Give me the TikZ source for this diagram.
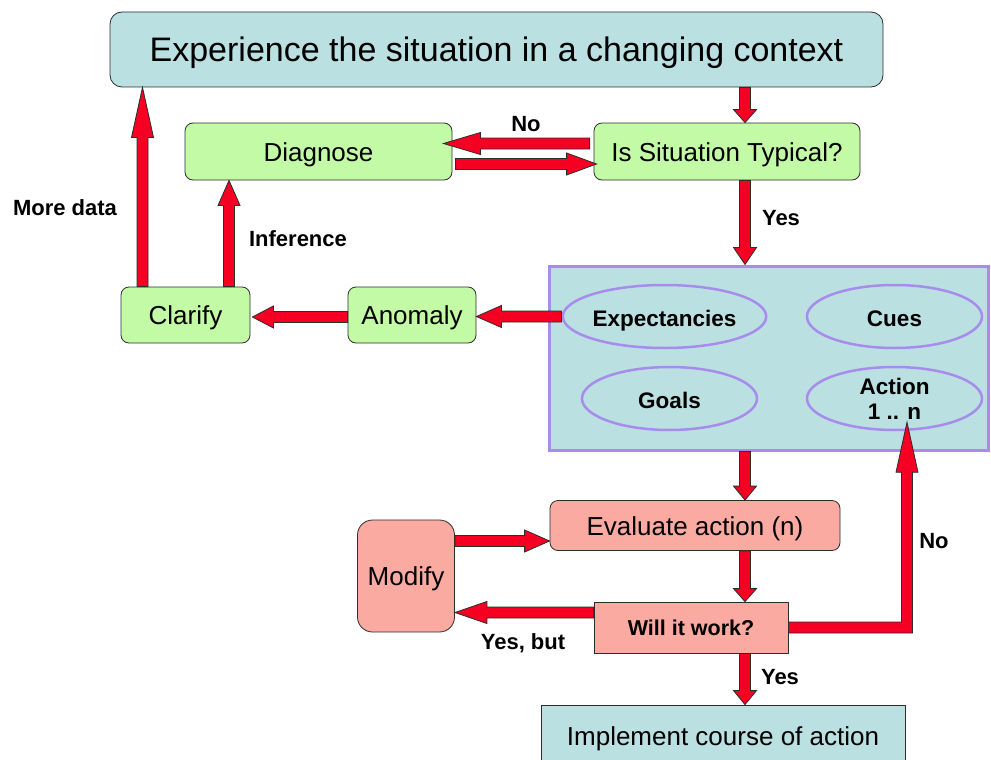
\documentclass[tikz,border=0pt]{standalone}
\usepackage{fontspec}
\setmainfont{Liberation Sans}
\usetikzlibrary{calc,shapes.geometric}
\definecolor{boxblue}{RGB}{186,224,226}
\definecolor{boxgreen}{RGB}{194,250,166}
\definecolor{boxsalmon}{RGB}{250,170,160}
\definecolor{ovalpurple}{RGB}{168,140,236}
\definecolor{arrowred}{RGB}{245,0,35}
\definecolor{edgegray}{RGB}{45,45,45}
\tikzset{
  headlen/.store in=\barrowhl, headwid/.store in=\barrowhw, shaftwid/.store in=\barrowsw,
  headlen=25pt, headwid=11pt, shaftwid=5.5pt,
  barrowsty/.style={fill=arrowred, draw=edgegray, line width=0.8pt, line join=miter},
  box/.style={draw=edgegray, line width=0.8pt, rectangle, inner sep=0pt, align=center,
    text height=19pt, text depth=0pt, font=\fontsize{26}{30}\selectfont},
  greenbox/.style={box, fill=boxgreen, rounded corners=8pt},
  salmonbox/.style={box, fill=boxsalmon, rounded corners=8pt},
  oval/.style={ellipse, draw=ovalpurple, line width=2.5pt, inner sep=0pt, align=center,
    font=\bfseries\fontsize{22.5}{25}\selectfont},
  lbl/.style={inner sep=0pt, font=\bfseries\fontsize{22}{25}\selectfont},
}
\newcommand\blockarrow[3][]{%
  \path[barrowsty,#1] let \p1=(#2), \p2=(#3), \n1={veclen(\x2-\x1,\y2-\y1)} in
    ($(\p1)!\barrowsw!90:(\p2)$)
    -- ($(\p1)!\n1-\barrowhl!(\p2)!\barrowsw!90:(\p2)$)
    -- ($(\p1)!\n1-\barrowhl!(\p2)!\barrowhw!90:(\p2)$)
    -- (\p2)
    -- ($(\p1)!\n1-\barrowhl!(\p2)!\barrowhw!-90:(\p2)$)
    -- ($(\p1)!\n1-\barrowhl!(\p2)!\barrowsw!-90:(\p2)$)
    -- ($(\p1)!\barrowsw!-90:(\p2)$) -- cycle;}
\begin{document}
\begin{tikzpicture}[x=1pt,y=-1pt]
\useasboundingbox (0,0) rectangle (991,760);
\clip (0,0) rectangle (991,760);
% boxes
\node[box, fill=boxblue, rounded corners=12pt, minimum width=773, minimum height=75,
  text height=24pt, font=\fontsize{34}{38}\selectfont] (title) at (496.5,49.5) {Experience the situation in a changing context};
\node[greenbox, minimum width=267, minimum height=57] (dia) at (318.5,151.5) {Diagnose};
\node[greenbox, minimum width=266, minimum height=57] (issit) at (727,151.5) {Is Situation Typical?};
\node[greenbox, minimum width=129, minimum height=56] (clarify) at (185.5,315) {Clarify};
\node[greenbox, minimum width=128, minimum height=56] (anomaly) at (412,315) {Anomaly};
\node[rectangle, draw=ovalpurple, fill=boxblue, line width=3pt, minimum width=439, minimum height=184, inner sep=0pt] (big) at (768.5,358) {};
\node[oval, text height=20pt, text depth=0pt, minimum width=185, minimum height=63] (exp) at (664.5,316.5) {Expectancies};
\node[oval, text height=20pt, text depth=0pt, minimum width=175, minimum height=63] (cues) at (894.5,316.5) {Cues};
\node[oval, text height=20pt, text depth=0pt, minimum width=175, minimum height=63] (goals) at (669.5,398.5) {Goals};
\node[oval, minimum width=175, minimum height=63] (act) at (894.5,398.5) {Action\\1 .{}. n};
\node[salmonbox, minimum width=290, minimum height=50] (eval) at (695,525.5) {Evaluate action (n)};
\node[salmonbox, rounded corners=15pt, minimum width=97, minimum height=112] (modify) at (406,576) {Modify};
\node[box, fill=boxsalmon, minimum width=194, minimum height=51, text height=15.5pt,
  font=\bfseries\fontsize{21.5}{25}\selectfont] (will) at (691,627.5) {Will it work?};
\node[box, fill=boxblue, minimum width=364, minimum height=62] (impl) at (723,736) {Implement course of action};
% helper coordinates
\coordinate (col) at (745,0);
\coordinate (infx) at (229,0);
\coordinate (mdx) at (142.5,0);
\coordinate (m1) at ([yshift=35pt]modify.east);
\coordinate (w1) at ([yshift=15pt]will.west);
\coordinate (ntip) at ([xshift=12.5pt,yshift=9pt]act.south);
% arrows
\blockarrow[headlen=13pt,headwid=11.5pt]{col |- title.south}{col |- issit.north}
\blockarrow[headlen=17pt,headwid=11.5pt]{col |- issit.south}{col |- big.north}
\blockarrow[headlen=37pt]{[xshift=-4pt,yshift=8pt]issit.west}{[xshift=-9pt,yshift=8pt]dia.east}
\blockarrow[headlen=30pt]{[xshift=3pt,yshift=-12.5pt]dia.east}{[xshift=3pt,yshift=-12.5pt]issit.west}
\blockarrow{exp.west}{anomaly.east |- exp.west}
\blockarrow[headlen=21pt]{[yshift=-2pt]anomaly.west}{[xshift=2pt,yshift=-2pt]clarify.east}
\blockarrow{infx |- clarify.north}{infx |- dia.south}
\blockarrow[headlen=50pt]{mdx |- clarify.north}{mdx |- title.south}
\blockarrow[headlen=14pt,headwid=11.5pt]{col |- big.south}{col |- eval.north}
\blockarrow[headlen=13pt,headwid=11.5pt]{col |- eval.south}{col |- will.north}
\blockarrow[headlen=14pt,headwid=11.5pt]{col |- will.south}{col |- impl.north}
\blockarrow{m1}{m1 -| eval.west}
\blockarrow[headlen=32pt]{w1}{w1 -| modify.east}
\path[barrowsty] let \p1=(will.east), \p2=(ntip) in
  (\x1,\y1+5.5pt) -- (\x2-5.5pt,\y1+5.5pt) -- (\x2-5.5pt,\y2-50pt) -- (\x2-11pt,\y2-50pt)
  -- (\p2) -- (\x2+11pt,\y2-50pt) -- (\x2+5.5pt,\y2-50pt) -- (\x2+5.5pt,\y1-5.5pt)
  -- (\x1,\y1-5.5pt) -- cycle;
% labels
\node[lbl] (lno1) at (526,124) {No};
\node[lbl] (lyes1) at (781,218) {Yes};
\node[lbl] (lmore) at (65,208) {More data};
\node[lbl] (linf) at (298,239) {Inference};
\node[lbl] (lyesbut) at (523,643) {Yes, but};
\node[lbl] (lyes2) at (780,677) {Yes};
\node[lbl] (lno2) at (934,541) {No};
\end{tikzpicture}
\end{document}
